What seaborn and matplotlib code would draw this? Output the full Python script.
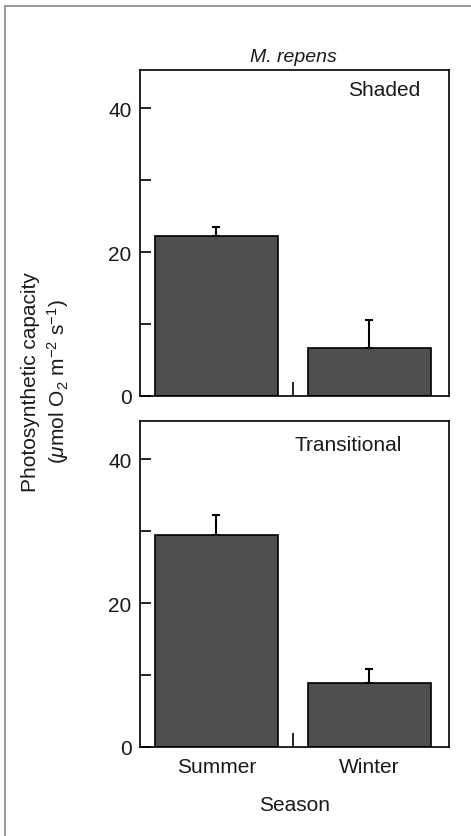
import matplotlib
matplotlib.use("Agg")
import matplotlib.pyplot as plt
import seaborn as sns
import pandas as pd
from matplotlib.lines import Line2D

sns.set_theme(style="ticks")
plt.rcParams['font.family'] = ['Liberation Sans', 'DejaVu Sans']
plt.rcParams['mathtext.fontset'] = 'custom'
plt.rcParams['mathtext.rm'] = 'Liberation Sans'
plt.rcParams['mathtext.it'] = 'Liberation Sans:italic'
plt.rcParams['text.color'] = '#1a1a1a'

seasons = ["Summer", "Winter"]
shaded_mean = [22.3, 6.7]
shaded_err = [1.2, 3.8]
trans_mean = [29.5, 8.9]
trans_err = [2.8, 2.0]
panel_names = ["Shaded", "Transitional"]

W, H = 471, 837
fig = plt.figure(figsize=(W / 100, H / 100), dpi=100)

def ax_rect(l, t, r, b):
    return [l / W, 1 - b / H, (r - l) / W, (b - t) / H]

ax_top = fig.add_axes(ax_rect(140, 71, 449, 397))
ax_bot = fig.add_axes(ax_rect(140, 422, 449, 748))

panels = [
    (ax_top, shaded_mean, shaded_err, panel_names[0], 0.906, 0.968),
    (ax_bot, trans_mean, trans_err, panel_names[1], 0.848, 0.958),
]

for ax, means, errs, name, tx, ty in panels:
    df = pd.DataFrame({"Season": seasons, "value": means})
    sns.barplot(data=df, x="Season", y="value", ax=ax, color="#4f4f4f",
                saturation=1, width=0.8, edgecolor="black", linewidth=1.2,
                errorbar=None)
    ax.errorbar(range(len(seasons)), means, yerr=[[0] * len(errs), errs],
                fmt="none", ecolor="black", elinewidth=1.5, capsize=3,
                capthick=1.5, zorder=5)
    ax.set_xlim(-0.5, 1.52)
    ax.set_ylim(0, 45.3)
    ax.set_yticks([0, 20, 40])
    ax.set_yticks([10, 30], minor=True)
    ax.set_xticks([0, 1])
    ax.set_xticks([0.5], minor=True)
    ax.tick_params(axis="y", which="both", direction="in", length=8,
                   width=1.2, labelsize=15, pad=6, colors="black",
                   labelcolor="#1a1a1a")
    ax.tick_params(axis="x", which="major", length=0, labelsize=15, pad=7,
                   labelcolor="#1a1a1a")
    ax.tick_params(axis="x", which="minor", direction="in", length=10,
                   width=1.4)
    for s in ax.spines.values():
        s.set_visible(True)
        s.set_linewidth(1.2)
        s.set_color("black")
    ax.set_ylabel("")
    ax.set_xlabel("")
    ax.text(tx, ty, name, transform=ax.transAxes, ha="right", va="top",
            fontsize=15)

ax_top.set_xticklabels([])
ax_bot.set_xticklabels(seasons)
ax_bot.set_xlabel("Season", fontsize=15, labelpad=14, color="#1a1a1a")

fig.text(293 / W, 1 - 57 / H, "M. repens", ha="center", va="center",
         fontsize=14, style="italic")
fig.text(46 / W, 1 - 382 / H,
         "Photosynthetic capacity\n($\\mu$mol O$_2$ m$^{-2}$ s$^{-1}$)",
         rotation=90, ha="center", va="center", fontsize=15,
         linespacing=1.25)

# thin frame lines from the scanned page
fig.add_artist(Line2D([5 / W, 5 / W], [0, 1 - 7 / H], transform=fig.transFigure,
                      color="#888888", linewidth=1.2))
fig.add_artist(Line2D([5 / W, 1], [1 - 7 / H, 1 - 7 / H], transform=fig.transFigure,
                      color="#888888", linewidth=1.2))

fig.savefig("out.png", dpi=100, facecolor="white")
